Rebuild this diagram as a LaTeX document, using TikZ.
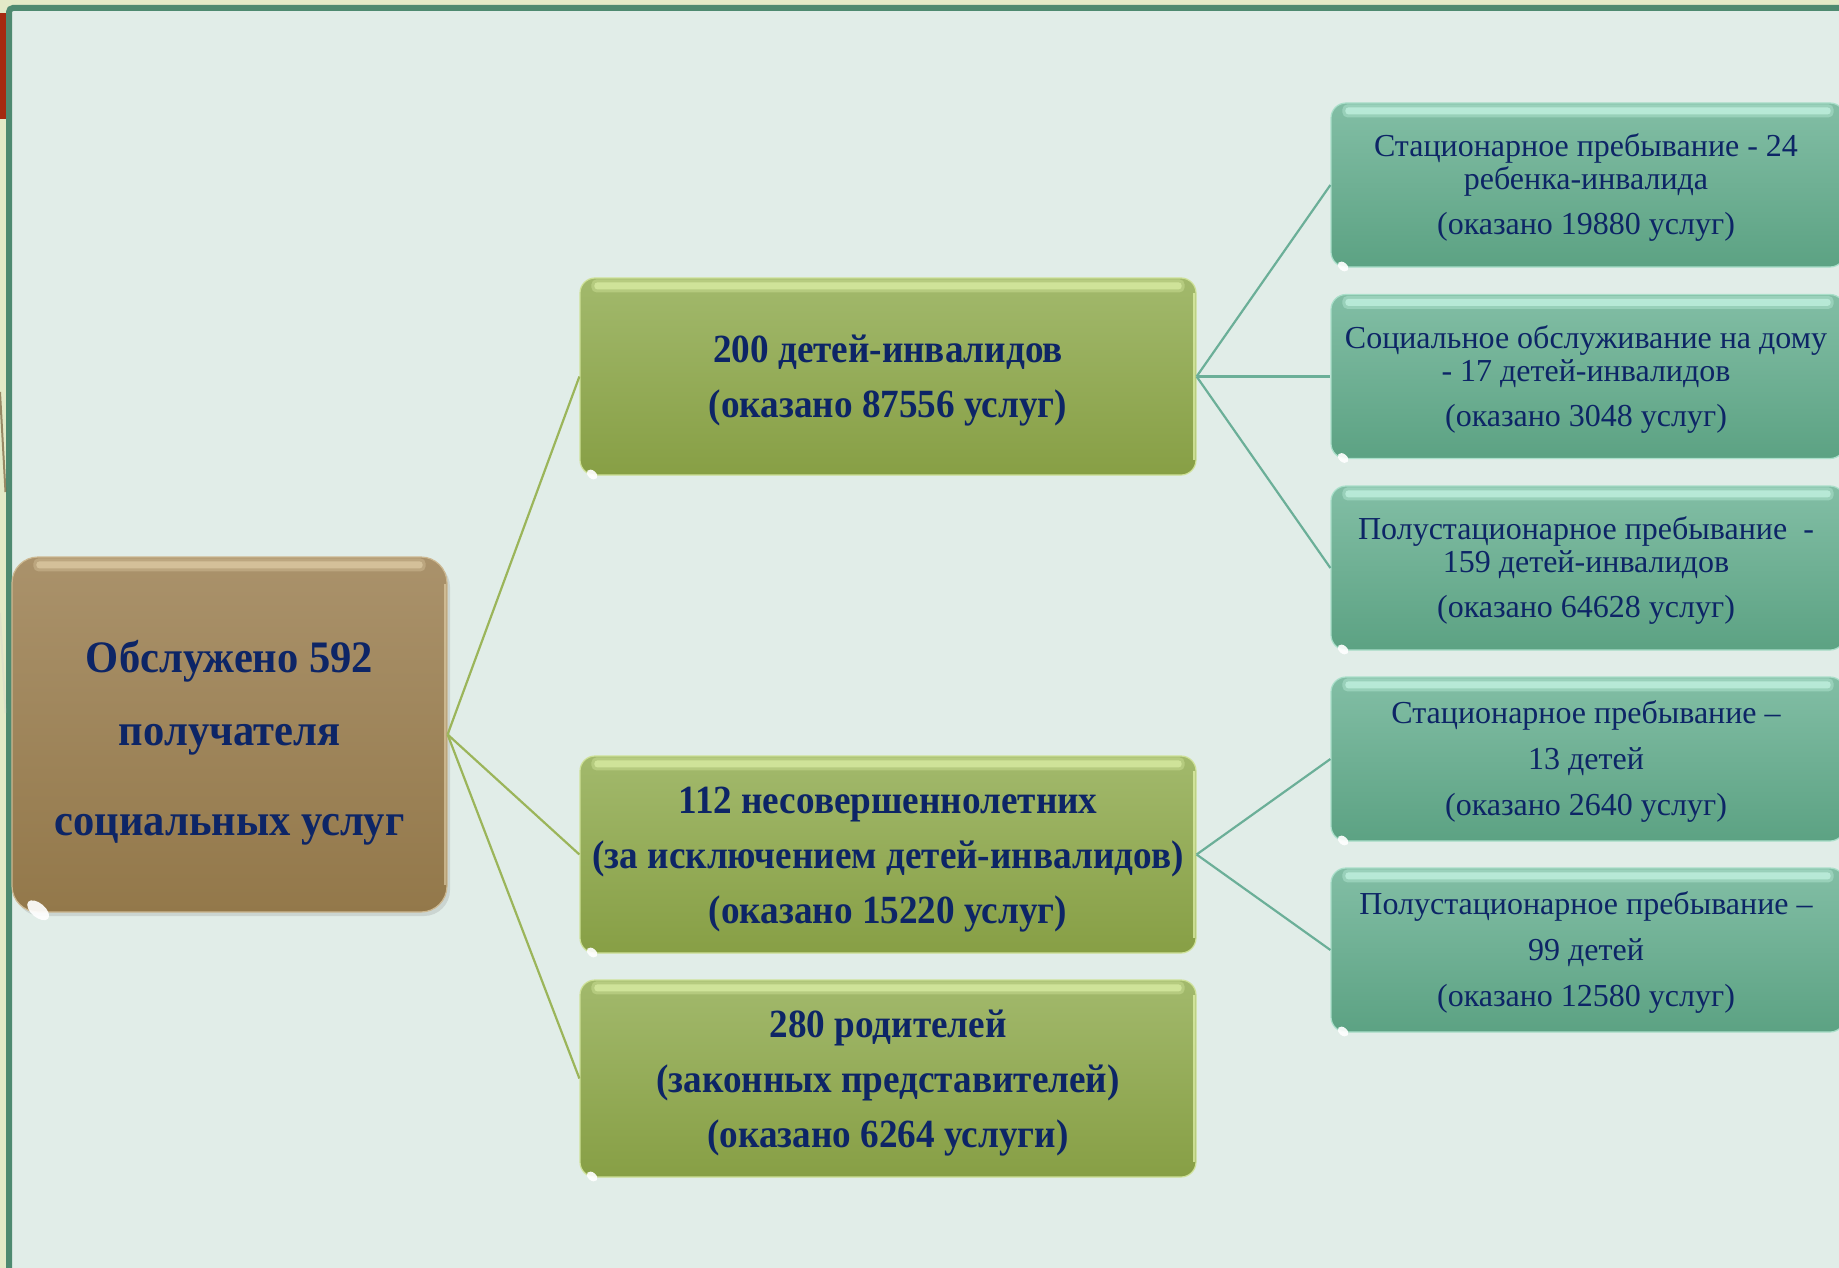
\documentclass[tikz,border=0pt]{standalone}
\usepackage{fontspec}
\setmainfont{Liberation Serif}
\newfontfamily\rootfam[FakeStretch=0.945]{Liberation Serif}
\newfontfamily\grfam[FakeStretch=0.93]{Liberation Serif}
\usetikzlibrary{shadows,calc}
\definecolor{outerbg}{HTML}{E3EAC7}
\definecolor{innerbg}{HTML}{E1EDE8}
\definecolor{framecol}{HTML}{4E8A70}
\definecolor{redbar}{HTML}{A52A10}
\definecolor{navy}{HTML}{0D2566}
\definecolor{rootTop}{HTML}{AA926B}
\definecolor{rootBot}{HTML}{93784A}
\definecolor{rootRim}{HTML}{E8D7B0}
\definecolor{grTop}{HTML}{A2B96C}
\definecolor{grBot}{HTML}{879F45}
\definecolor{grRim}{HTML}{E6F7B0}
\definecolor{tlTop}{HTML}{82BEA5}
\definecolor{tlBot}{HTML}{5CA283}
\definecolor{tlRim}{HTML}{D2FFEF}
\definecolor{grLine}{HTML}{9BB55A}
\definecolor{tlLine}{HTML}{6BAF98}
% #1 node, #2 rim colour, #3 inset of top band, #4 glint x radius, #5 glint y radius, #6 glint offset
\newcommand\glossbox[6]{%
  \fill[#2, opacity=0.30, rounded corners=5pt] ($(#1.north west)+(#3,2)$) rectangle ($(#1.north east)+(-#3,15)$);
  \fill[#2, opacity=0.55, rounded corners=3pt] ($(#1.north west)+(#3+3,5)$) rectangle ($(#1.north east)+(-#3-3,12)$);
  \fill[white, opacity=0.92, rotate around={-40:($(#1.south west)+(#6,-#6)$)}] ($(#1.south west)+(#6,-#6)$) ellipse ({#4} and {#5});
}
\begin{document}
\begin{tikzpicture}[x=1pt,y=-1pt,
  boxbase/.style={rectangle, inner sep=0pt},
  txt/.style={align=center, inner sep=0pt, text=navy},
  rootbox/.style={boxbase, rounded corners=26pt, minimum width=435pt, minimum height=355pt,
     top color=rootTop, bottom color=rootBot, draw=rootRim!55!rootTop, line width=1.2pt,
     drop shadow={opacity=0.22, shadow xshift=3pt, shadow yshift=-4pt}},
  roottxt/.style={txt, font=\rootfam\fontsize{45}{73}\selectfont\bfseries},
  grbox/.style={boxbase, rounded corners=15pt, minimum width=616pt, minimum height=197pt,
     top color=grTop, bottom color=grBot, draw=grRim!65!grTop, line width=1.2pt},
  grtxt/.style={txt, font=\grfam\fontsize{40}{55}\selectfont\bfseries},
  tlbox/.style={boxbase, rounded corners=15pt, minimum width=514pt, minimum height=164pt,
     top color=tlTop, bottom color=tlBot, draw=tlRim!50!tlTop, line width=1.2pt},
  tltxt/.style={txt, font=\fontsize{32}{33}\selectfont},
  grcon/.style={draw=grLine, line width=2.2pt},
  tlcon/.style={draw=tlLine, line width=2.2pt}
]
\useasboundingbox (0,0) rectangle (1839,1268);
\clip (0,0) rectangle (1839,1268);
\fill[outerbg] (0,0) rectangle (1839,1268);
\fill[redbar] (0,13) rectangle (6,119);
\draw[draw=framecol, line width=6pt, fill=innerbg, rounded corners=4pt] (9,8) rectangle (1900,1330);
% faint lines from a slide behind
\draw[draw=black!20!rootBot, opacity=0.7, line width=2pt] (0,392) -- (5.5,492);
\draw[draw=black!20, opacity=0.25, line width=2pt] (0,613) -- (5.5,713);

% boxes
\node[rootbox] (root) at (229.5,734.5) {};
\node[grbox] (g1) at (888,376.5) {};
\node[grbox] (g2) at (888,854.5) {};
\node[grbox] (g3) at (888,1078.5) {};
\node[tlbox] (t1) at (1588,185) {};
\node[tlbox] (t2) at (1588,376.5) {};
\node[tlbox] (t3) at (1588,568) {};
\node[tlbox] (t4) at (1588,759) {};
\node[tlbox] (t5) at (1588,950) {};

\glossbox{root}{rootRim}{22}{13}{7}{19}
\glossbox{g1}{grRim}{12}{6}{4}{9}
\glossbox{g2}{grRim}{12}{6}{4}{9}
\glossbox{g3}{grRim}{12}{6}{4}{9}
\glossbox{t1}{tlRim}{12}{6}{4}{9}
\glossbox{t2}{tlRim}{12}{6}{4}{9}
\glossbox{t3}{tlRim}{12}{6}{4}{9}
\glossbox{t4}{tlRim}{12}{6}{4}{9}
\glossbox{t5}{tlRim}{12}{6}{4}{9}
% light right rims
\foreach \n in {g1,g2,g3}{
  \draw[grRim, opacity=0.7, line width=2pt] ($(\n.north east)+(-3,16)$) -- ($(\n.south east)+(-3,-16)$);
}
\draw[rootRim, opacity=0.6, line width=2pt] ($(root.north east)+(-3,28)$) -- ($(root.south east)+(-3,-28)$);

% texts
\node[roottxt] (roott) at ($(root)+(0,8)$) {Обслужено 592\\получателя\\[17pt]социальных услуг};
\node[grtxt] (g1t) at ($(g1)+(0,4)$) {200 детей-инвалидов\\(оказано 87556 услуг)};
\node[grtxt] (g2t) at ($(g2)+(0,5)$) {112 несовершеннолетних\\(за исключением детей-инвалидов)\\(оказано 15220 услуг)};
\node[grtxt] (g3t) at ($(g3)+(0,5)$) {280 родителей\\(законных представителей)\\(оказано 6264 услуги)};
\node[tltxt] (t1t) at ($(t1)+(-2,2.5)$) {Стационарное пребывание - 24\\ребенка-инвалида\\[12pt](оказано 19880 услуг)};
\node[tltxt] (t2t) at ($(t2)+(-2,2.5)$) {Социальное обслуживание на дому\\- 17 детей-инвалидов\\[12pt](оказано 3048 услуг)};
\node[tltxt] (t3t) at ($(t3)+(-2,2.5)$) {Полустационарное пребывание~~-\\159 детей-инвалидов\\[12pt](оказано 64628 услуг)};
\node[tltxt] (t4t) at ($(t4)+(-2,2.5)$) {Стационарное пребывание –\\[13pt]13 детей\\[13pt](оказано 2640 услуг)};
\node[tltxt] (t5t) at ($(t5)+(-2,2.5)$) {Полустационарное пребывание –\\[13pt]99 детей\\[13pt](оказано 12580 услуг)};

% connectors
\draw[grcon] (root.east) -- (g1.west);
\draw[grcon] (root.east) -- (g2.west);
\draw[grcon] (root.east) -- (g3.west);
\draw[tlcon] (g1.east) -- (t1.west);
\draw[tlcon] (g1.east) -- (t2.west);
\draw[tlcon] (g1.east) -- (t3.west);
\draw[tlcon] (g2.east) -- (t4.west);
\draw[tlcon] (g2.east) -- (t5.west);
\end{tikzpicture}
\end{document}
